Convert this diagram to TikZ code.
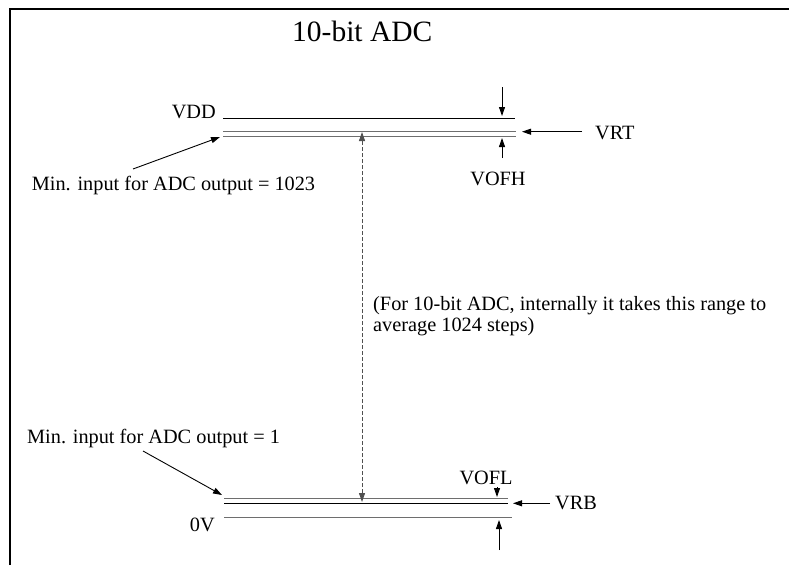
\documentclass[tikz,border=0pt]{standalone}
\usepackage{fontspec}
\setmainfont{Liberation Serif}
\usetikzlibrary{arrows.meta,positioning}
\definecolor{levelgray}{RGB}{110,110,110}
\definecolor{dashgray}{RGB}{80,80,80}

\begin{document}
\begin{tikzpicture}[
 x=1pt, y=-1pt,
 lbl/.style={inner sep=0pt, font=\fontsize{20.3}{21.7}\selectfont},
 ttl/.style={inner sep=0pt, font=\fontsize{29.5}{34}\selectfont},
 level/.style={line width=1pt, black},
 levelg/.style={line width=1.3pt, levelgray},
 arrow/.style={-{Triangle[length=9pt,width=6pt]}, line width=0.9pt},
 rangearrow/.style={{Triangle[length=9pt,width=6pt]}-{Triangle[length=9pt,width=6pt]}, line width=0.9pt, dashgray, dash pattern=on 4pt off 2pt}
]
\useasboundingbox (0,0) rectangle (789,565);

% Frame
\draw[line width=2.5pt] (10,565) -- (10,9) -- (789,9);

% Title
\node[ttl, anchor=base west] (title) at (292,41.7) {10-bit ADC};

% Top levels
\coordinate (vdd_l) at (223,118.3); \coordinate (vdd_r) at (515,118.3);
\coordinate (vrt_l) at (223,131.7); \coordinate (vrt_r) at (516,131.7);
\coordinate (vrt2_l) at (223,136);  \coordinate (vrt2_r) at (516,136);
\draw[level] (vdd_l) -- (vdd_r);
\draw[levelg, line width=1pt] (vrt_l) -- (vrt_r);
\draw[levelg, line width=1pt] (vrt2_l) -- (vrt2_r);

% Bottom levels
\coordinate (ofl_l) at (224,498.3); \coordinate (ofl_r) at (508,498.3);
\coordinate (vrb_l) at (224,503.3); \coordinate (vrb_r) at (508,503.3);
\coordinate (zero_l) at (224,517.7); \coordinate (zero_r) at (512,517.7);
\draw[levelg] (ofl_l) -- (ofl_r);
\draw[level] (vrb_l) -- (vrb_r);
\draw[levelg] (zero_l) -- (zero_r);

% Labels
\node[lbl, anchor=base east] (vdd) at (216,118) {VDD};
\node[lbl, anchor=base west] (min_top) at (31.7,190) {Min. input for ADC output = 1023};
\node[lbl, anchor=base] (vofh) at (498,185) {VOFH};
\node[lbl, anchor=base west] (vrt) at (595,139) {VRT};
\node[lbl, anchor=north west, align=left] (note) at (373,296)
 {(For 10-bit ADC, internally it takes this range to\\average 1024 steps)};
\node[lbl, anchor=base west] (min_bot) at (27,443) {Min. input for ADC output = 1};
\node[lbl, anchor=base] (vofl) at (486,484) {VOFL};
\node[lbl, anchor=base west] (vrb) at (555,509) {VRB};
\node[lbl, anchor=base east] (zero) at (215,531) {0V};

% Arrow ends
\coordinate (vofh_in) at (502,87);   \coordinate (vofh_top) at (502,116);
\coordinate (vofh_up) at (502,158);  \coordinate (vofh_bot) at (502,138);
\coordinate (vrt_tail) at (582,131.7); \coordinate (vrt_tip) at (522,131.7);
\coordinate (min_top_t) at (133,169); \coordinate (min_top_h) at (220,137);
\coordinate (min_bot_t) at (143,451); \coordinate (min_bot_h) at (222,495);
\coordinate (rng_top) at (362,132);  \coordinate (rng_bot) at (362,502);
\coordinate (vofl_t) at (497,487);   \coordinate (vofl_h) at (497,497);
\coordinate (vrb_tail) at (550,503.3); \coordinate (vrb_tip) at (513,503.3);
\coordinate (zero_t) at (499,550);   \coordinate (zero_h) at (499,520);

% Arrows
\draw[arrow] (vofh_in) -- (vofh_top);
\draw[arrow] (vofh_up) -- (vofh_bot);
\draw[arrow] (vrt_tail) -- (vrt_tip);
\draw[arrow] (min_top_t) -- (min_top_h);
\draw[arrow] (min_bot_t) -- (min_bot_h);
\draw[rangearrow] (rng_bot) -- (rng_top);
\draw[arrow] (vofl_t) -- (vofl_h);
\draw[arrow] (vrb_tail) -- (vrb_tip);
\draw[arrow] (zero_t) -- (zero_h);

\end{tikzpicture}
\end{document}
